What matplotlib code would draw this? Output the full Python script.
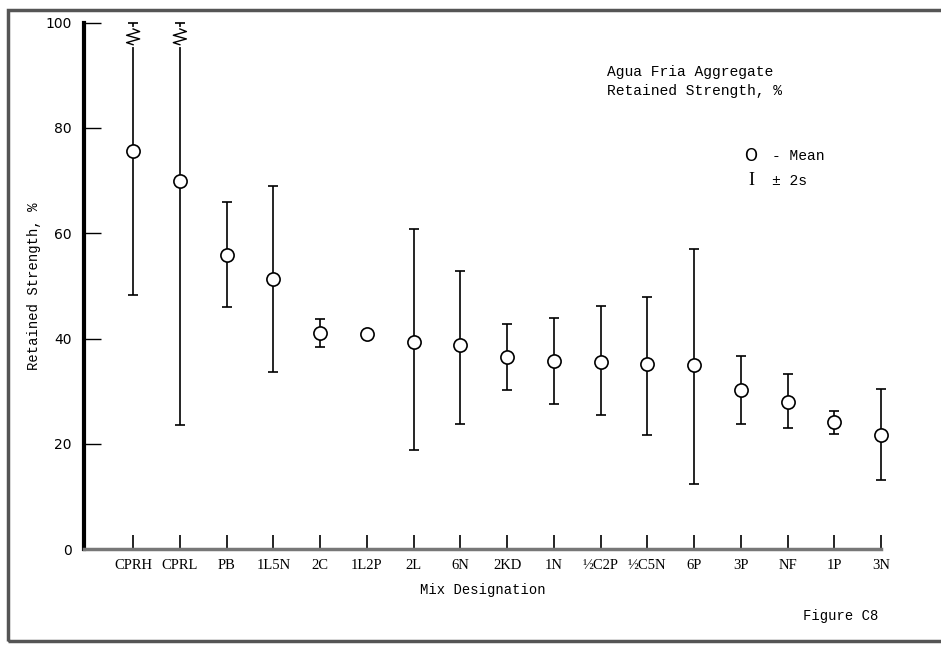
import numpy as np
import matplotlib.pyplot as plt
from matplotlib.patches import Rectangle

# Mix designations and retained strength (%)
mixes = ['CPRH', 'CPRL', 'PB', '1L5N', '2C', '1L2P', '2L', '6N', '2KD', '1N',
         '½C2P', '½C5N', '6P', '3P', 'NF', '1P', '3N']
mean = [75.6, 69.9, 55.8, 51.3, 41.0, 40.8, 39.3, 38.7, 36.5, 35.7,
        35.5, 35.1, 34.9, 30.2, 27.9, 24.1, 21.7]
upper = [100, 100, 65.9, 69.0, 43.7, 40.8, 60.8, 52.8, 42.7, 43.9,
         46.2, 47.9, 57.0, 36.7, 33.2, 26.2, 30.4]
lower = [48.2, 23.5, 46.0, 33.6, 38.4, 40.8, 18.8, 23.7, 30.2, 27.5,
         25.5, 21.7, 12.3, 23.7, 23.0, 21.8, 13.1]
broken = ['CPRH', 'CPRL']   # +2s runs off the top of the scale

serif = 'Liberation Serif'
mono = 'Liberation Mono'

fig = plt.figure(figsize=(9.41, 6.46), dpi=100)
ax = fig.add_axes([0.0893, 0.150, 0.8470, 0.815])

x = np.arange(len(mixes))
mean = np.array(mean)
yerr = [mean - np.array(lower), np.array(upper) - mean]
ax.errorbar(x, mean, yerr=yerr, fmt='none', ecolor='black', elinewidth=1.2,
            capsize=3.5, capthick=1.2, clip_on=False, zorder=2)
ax.plot(x, mean, 'o', ms=9.5, mfc='white', mec='black', mew=1.2,
        clip_on=False, zorder=3)

# break symbol on the bars that run off scale
for name in broken:
    i = mixes.index(name)
    ax.plot([i, i], [95.8, 98.8], color='white', lw=3, zorder=2.5)
    ax.plot(i + np.array([0, 0.14, -0.14, 0.14, -0.14, 0]),
            [98.8, 98.3, 97.6, 96.9, 96.2, 95.8],
            color='black', lw=1.0, zorder=2.6, clip_on=False)

ax.set_xlim(-1.05, len(mixes) - 1)
ax.set_ylim(0, 100)
ax.set_xticks(x)
ax.set_xticklabels(mixes, fontfamily=serif, fontsize=10.5)
ax.set_yticks([0, 20, 40, 60, 80, 100])
ax.set_yticklabels(['0', '20', '40', '60', '80', '100'], fontfamily='DejaVu Sans',
                   fontsize=10)
ax.tick_params(axis='x', direction='in', length=10, width=1.2, pad=7)
ax.tick_params(axis='y', direction='in', length=12, width=1.0, pad=9)

for s in ['top', 'right']:
    ax.spines[s].set_visible(False)
ax.spines['left'].set_linewidth(3)
ax.spines['bottom'].set_linewidth(2.5)
ax.spines['bottom'].set_color('#777777')

ax.set_xlabel('Mix Designation', fontfamily=mono, fontsize=10, labelpad=8)
ax.set_ylabel('Retained Strength, %', fontfamily=mono, fontsize=10, labelpad=3)

# annotations
fig.text(0.645, 0.874, 'Agua Fria Aggregate\nRetained Strength, %',
         fontfamily=mono, fontsize=10.5, va='center', ha='left', linespacing=1.4)
fig.text(0.798, 0.758, 'O', fontfamily='DejaVu Sans', fontsize=12, ha='center', va='center')
fig.text(0.820, 0.758, '- Mean', fontfamily=mono, fontsize=10.5, ha='left', va='center')
fig.text(0.798, 0.720, 'I', fontfamily=serif, fontsize=13, ha='center', va='center')
fig.text(0.820, 0.720, '± 2s', fontfamily=mono, fontsize=10.5, ha='left', va='center')
fig.text(0.853, 0.046, 'Figure C8', fontfamily=mono, fontsize=10, ha='left', va='center')

# scanned page border
fig.patches.append(Rectangle((0.008, 0.008), 1.05, 0.977, transform=fig.transFigure,
                             fill=False, edgecolor='#555555', lw=2.5))

fig.savefig('out.png', dpi=100)
